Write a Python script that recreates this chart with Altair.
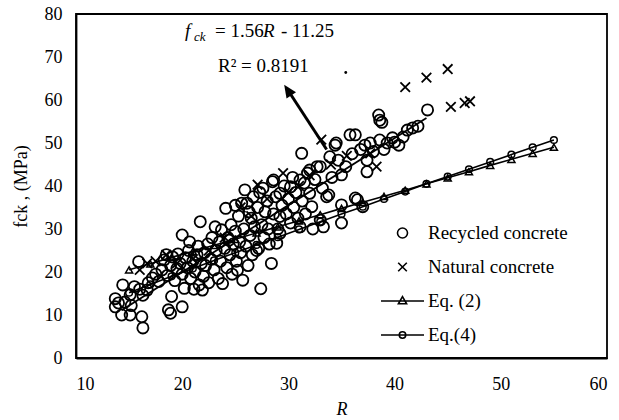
import altair as alt
import pandas as pd

# ---------------- data ----------------
rec_R = [13.7, 13.7, 14.0, 14.3, 14.4, 14.6, 15.1, 15.1, 15.5, 15.9, 16.2, 16.3, 16.3, 16.0, 15.2,
         16.8, 17.2, 16.7, 17.5, 17.8, 18.1, 18.3, 18.5, 18.7, 18.9, 19.0, 20.0, 18.6, 18.9, 19.1,
         19.3, 19.5, 19.6, 19.8, 20.0, 20.0, 20.2, 20.3, 20.5, 20.6, 20.7, 20.8, 21.0, 21.1, 21.2,
         21.4, 21.5, 21.6, 21.7, 21.8, 21.9, 22.0, 22.1, 22.2, 22.4, 22.5, 22.7, 22.8, 23.0, 23.1,
         23.2, 23.4, 23.5, 23.6, 23.7, 23.8, 24.0, 24.1, 24.2, 24.3, 24.4, 24.5, 24.6, 24.7, 24.8,
         25.0, 25.0, 25.1, 25.2, 25.3, 25.4, 25.5, 25.6, 25.7, 25.8, 25.9, 26.0, 26.1, 26.2, 26.3,
         26.4, 26.5, 26.6, 26.7, 26.8, 27.0, 27.1, 27.2, 27.3, 27.4, 27.5, 27.6, 27.7, 27.8, 28.0,
         28.1, 28.2, 28.4, 28.5, 28.6, 28.6, 28.8, 28.9, 29.0, 29.2, 29.2, 29.2, 29.4, 29.6, 29.8,
         30.0, 30.2, 30.2, 30.4, 30.5, 30.7, 30.9, 31.1, 31.1, 31.25, 31.3, 31.5, 31.6, 31.8, 32.0,
         32.0, 32.2, 32.3, 32.5, 32.7, 33.0, 33.0, 33.2, 33.3, 33.6, 33.8, 33.9, 34.1, 34.4, 34.5,
         34.7, 35.0, 35.0, 35.0, 35.4, 35.8, 36.0, 36.3, 36.3, 36.5, 36.8, 37.0, 37.2, 37.4, 37.4,
         37.7, 38.0, 38.5, 38.6, 38.6, 38.8, 39.0, 39.3, 39.8, 40.0, 40.4, 40.8, 41.2, 41.7, 42.2,
         43.1]
rec_f = [13.8, 11.9, 12.8, 10.0, 17.0, 13.0, 10.0, 14.7, 16.6, 22.4, 9.6, 7.0, 14.6, 16.0, 12.2,
         17.5, 18.6, 15.8, 19.5, 17.8, 20.5, 22.8, 24.0, 11.2, 10.4, 14.3, 11.9, 19.2, 21.5, 23.5,
         18.0, 20.8, 24.2, 22.0, 28.6, 19.5, 16.2, 23.3, 21.0, 25.0, 27.0, 18.5, 22.5, 16.0, 20.0,
         24.0, 26.0, 17.0, 31.7, 22.0, 15.8, 19.0, 24.5, 21.5, 26.5, 17.5, 23.0, 28.0, 20.5, 30.5,
         25.0, 18.5, 27.0, 22.5, 29.8, 17.3, 25.5, 34.8, 21.0, 28.0, 27.4, 24.0, 31.0, 19.5, 26.5,
         35.5, 29.5, 22.5, 20.4, 33.0, 27.0, 24.5, 36.0, 18.1, 30.0, 39.1, 26.0, 36.0, 21.5, 34.0,
         28.5, 32.5, 24.0, 37.5, 30.5, 25.0, 35.0, 25.5, 38.5, 16.1, 31.0, 39.5, 28.0, 34.0, 36.5,
         30.0, 26.5, 22.0, 41.0, 41.4, 33.5, 37.5, 26.7, 30.0, 38.3, 32.9, 29.0, 35.5, 40.0, 33.5,
         37.0, 39.8, 31.4, 42.0, 35.0, 38.5, 32.5, 41.4, 30.5, 47.6, 36.5, 40.7, 33.5, 43.0, 43.7,
         38.3, 35.2, 30.0, 41.5, 44.5, 44.5, 32.1, 39.5, 30.5, 37.5, 37.9, 46.8, 42.0, 49.5, 50.0,
         46.0, 42.6, 35.6, 31.4, 44.5, 51.9, 47.5, 51.9, 37.2, 36.8, 48.5, 35.2, 49.5, 43.3, 46.0,
         50.0, 48.0, 56.5, 55.3, 50.7, 54.8, 48.5, 50.0, 51.2, 50.2, 49.5, 51.4, 53.0, 53.5, 53.9,
         57.7]

nat_R = [16.0, 16.7, 17.5, 18.5, 19.5, 21.0, 22.5, 24.0, 25.5, 26.5, 27.1, 28.0, 29.5, 30.0,
         31.0, 32.0, 33.1, 34.0, 35.5, 37.7, 38.3, 41.0, 43.0, 45.0, 45.3, 46.6, 47.1]
nat_f = [20.5, 22.0, 22.5, 24.0, 22.0, 23.0, 25.0, 28.0, 35.0, 33.0, 40.3, 37.0, 43.0, 38.5,
         40.0, 42.5, 50.8, 45.0, 47.0, 47.6, 44.5, 63.0, 65.2, 67.2, 58.4, 59.3, 59.7]

eq_R = [15, 17, 19, 21, 23, 25, 27, 29, 31, 33, 35, 37, 39, 41, 43, 45, 47, 49, 51, 53, 55]
eq2_f = [20.5, 21.9, 23.4, 24.8, 26.2, 27.6, 29.1, 30.5, 31.9, 33.3, 34.8, 36.2, 37.6, 39.0,
         40.5, 41.9, 43.3, 44.8, 46.2, 47.6, 49.0]
eq4_f = [15.2, 17.1, 19.0, 20.8, 22.7, 24.5, 26.3, 28.1, 29.9, 31.7, 33.5, 35.2, 37.0, 38.7,
         40.5, 42.2, 43.9, 45.6, 47.3, 49.0, 50.7]

reg_R = [14.3, 43.0]
reg_f = [11.1, 55.8]

x_ticks = [10, 20, 30, 40, 50, 60]
y_ticks = [0, 10, 20, 30, 40, 50, 60, 70, 80]

series_names = ["Recycled concrete", "Natural concrete", "Eq. (2)", "Eq.(4)"]

# annotation (in data coordinates)
arrow_R = [33.6, 29.9]
arrow_f = [48.5, 62.5]
arrowhead_R = [30.02]
arrowhead_f = [62.0]
dot_R = [35.4]
dot_f = [66.4]
ital_text = ["f", "ck", "R"]
ital_R = [20.26, 21.11, 27.61]
ital_f = [74.65, 73.72, 74.65]
ital_size = [19, 13, 19]
norm_text = ["= 1.56", "- 11.25", "R\u00b2 = 0.8191"]
norm_R = [23.09, 29.30, 23.37]
norm_f = [74.65, 74.65, 66.5]

# ---------------- tables ----------------
scatter_df = pd.DataFrame({
    "R": rec_R + nat_R,
    "fck": rec_f + nat_f,
    "series": [series_names[0]] * len(rec_R) + [series_names[1]] * len(nat_R),
})
eq2_df = pd.DataFrame({"R": eq_R, "fck": eq2_f})
eq4_df = pd.DataFrame({"R": eq_R, "fck": eq4_f})
reg_df = pd.DataFrame({"R": reg_R, "fck": reg_f})
arrow_df = pd.DataFrame({"R": arrow_R, "fck": arrow_f})
head_df = pd.DataFrame({"R": arrowhead_R, "fck": arrowhead_f})
dot_df = pd.DataFrame({"R": dot_R, "fck": dot_f})
ital_df = pd.DataFrame({"R": ital_R, "fck": ital_f, "t": ital_text, "s": ital_size})
norm_df = pd.DataFrame({"R": norm_R, "fck": norm_f, "t": norm_text})

FONT = "'Liberation Serif', 'Times New Roman', Times, serif"

x_enc = alt.X("R:Q", scale=alt.Scale(domain=[10, 60], nice=False),
              axis=alt.Axis(values=x_ticks, title="R", titleFontStyle="italic",
                            labelPadding=17, titlePadding=7))
y_enc = alt.Y("fck:Q", scale=alt.Scale(domain=[0, 80], nice=False),
              axis=alt.Axis(values=y_ticks, title="fck , (MPa)", labelPadding=14,
                            titlePadding=14))

circ = "M-0.233,0A0.233,0.233,0,1,0,0.233,0A0.233,0.233,0,1,0,-0.233,0Z"
xmark = "M-0.2,-0.2L0.2,0.2M-0.2,0.2L0.2,-0.2"
tri_line = "M-1,0L1,0M0,-0.2L0.19,0.13L-0.19,0.13Z"
circ_line = "M-1,0L1,0M-0.15,0A0.15,0.15,0,1,0,0.15,0A0.15,0.15,0,1,0,-0.15,0Z"

shape_scale = alt.Scale(domain=series_names, range=[circ, xmark, tri_line, circ_line])

scatter = alt.Chart(scatter_df).mark_point(filled=False, color="black", strokeWidth=1.8,
                                           size=2300, opacity=1).encode(
    x=x_enc, y=y_enc,
    shape=alt.Shape("series:N", scale=shape_scale,
                    legend=alt.Legend(orient="none", legendX=304, legendY=209, title=None,
                                      labelFont=FONT, labelFontSize=19, labelColor="black",
                                      symbolSize=1850, symbolStrokeWidth=1.6,
                                      symbolStrokeColor="black", symbolFillColor="transparent",
                                      clipHeight=20, rowPadding=14, labelOffset=3, padding=0)),
)

reg_line = alt.Chart(reg_df).mark_line(color="black", strokeWidth=1.8).encode(x=x_enc, y=y_enc)
eq2_line = alt.Chart(eq2_df).mark_line(color="black", strokeWidth=1.6).encode(x=x_enc, y=y_enc)
eq2_pts = alt.Chart(eq2_df).mark_point(shape="triangle-up", filled=False, color="black",
                                       size=50, strokeWidth=1.5, opacity=1).encode(x=x_enc, y=y_enc)
eq4_line = alt.Chart(eq4_df).mark_line(color="black", strokeWidth=1.6).encode(x=x_enc, y=y_enc)
eq4_pts = alt.Chart(eq4_df).mark_point(shape="circle", filled=False, color="black",
                                       size=45, strokeWidth=1.5, opacity=1).encode(x=x_enc, y=y_enc)

arrow = alt.Chart(arrow_df).mark_line(color="black", strokeWidth=3).encode(x=x_enc, y=y_enc)
head = alt.Chart(head_df).mark_point(shape="M0,-1L0.7,0.6L-0.7,0.6Z", filled=True, color="black",
                                     size=262, angle=326.8, opacity=1).encode(x=x_enc, y=y_enc)
dot = alt.Chart(dot_df).mark_point(shape="circle", filled=True, color="black", size=8,
                                   opacity=1).encode(x=x_enc, y=y_enc)

ital = alt.Chart(ital_df).mark_text(align="left", baseline="alphabetic", font=FONT,
                                    fontStyle="italic", color="black").encode(
    x=x_enc, y=y_enc, text="t:N", size=alt.Size("s:Q", scale=None, legend=None))
norm = alt.Chart(norm_df).mark_text(align="left", baseline="alphabetic", font=FONT,
                                    fontSize=19, color="black").encode(
    x=x_enc, y=y_enc, text="t:N")

chart = alt.layer(scatter, reg_line, eq2_line, eq2_pts, eq4_line, eq4_pts, arrow, head, dot,
                  ital, norm).properties(
    width=531, height=344, autosize="none",
    padding={"left": 76, "top": 14, "right": 12, "bottom": 62},
    background="white",
).configure_view(stroke="black", strokeWidth=1.8).configure_axis(
    grid=False, domainColor="black", domainWidth=1.8, tickSize=0,
    labelFont=FONT, labelFontSize=18, labelColor="black",
    titleFont=FONT, titleFontSize=18, titleFontWeight="normal", titleColor="black",
)

chart.save("out.html", embed_options={"renderer": "svg", "actions": False})
